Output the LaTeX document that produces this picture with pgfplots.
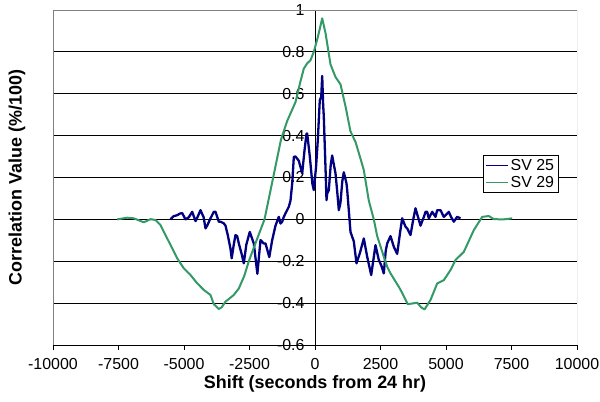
\documentclass[border=0pt]{standalone}
\usepackage{pgfplots}
\pgfplotsset{compat=1.18}
\usepackage{fontspec}
\setmainfont{Liberation Sans}

\definecolor{svblue}{RGB}{0,0,128}
\definecolor{svgreen}{RGB}{51,153,102}
\definecolor{frame}{RGB}{128,128,128}

\begin{document}
\begin{tikzpicture}
\path[use as bounding box] (-53bp,-57bp) rectangle (547bp,345bp);
\begin{axis}[
  at={(0,0)}, anchor=south west,
  scale only axis, width=524bp, height=335bp,
  xmin=-10000, xmax=10000, ymin=-0.6, ymax=1,
  axis x line=bottom, axis y line=center,
  x axis line style={-, black, line width=0.8bp},
  y axis line style={-, black, line width=0.8bp},
  hide obscured x ticks=false, hide obscured y ticks=false,
  scaled x ticks=false, scaled y ticks=false,
  xtick={-10000,-7500,-5000,-2500,0,2500,5000,7500,10000},
  xticklabels={-10000,-7500,-5000,-2500,0,2500,5000,7500,10000},
  ytick={-0.6,-0.4,-0.2,0,0.2,0.4,0.6,0.8,1},
  yticklabels={-0.6,-0.4,-0.2,0,0.2,0.4,0.6,0.8,1},
  minor tick num=0,
  tick align=outside, major tick length=5bp,
  tick style={black, line width=0.8bp},
  ymajorgrids, grid style={black, line width=0.8bp},
  tick label style={font=\fontsize{16}{19}\selectfont},
  xticklabel style={yshift=-6bp, inner sep=2bp},
  yticklabel style={xshift=-2bp},
  every axis x label/.style={at={(axis description cs:0.5,-0.1284)}, anchor=base,
    inner sep=0bp, font=\fontsize{18}{21}\selectfont\bfseries},
  every axis y label/.style={at={(axis description cs:-0.0687,0.5)}, anchor=center, rotate=90,
    font=\fontsize{18}{21}\selectfont\bfseries},
  xlabel={Shift (seconds from 24 hr)},
  ylabel={Correlation Value (\%/100)},
  legend cell align=left,
  legend image code/.code={\draw[#1, line width=1.3bp] (0bp,0bp) -- (22bp,0bp);},
  legend style={at={(rel axis cs:0.8206,0.567)}, anchor=north west,
    draw=black, line width=0.8bp, fill=white,
    font=\fontsize{16}{19}\selectfont,
    inner xsep=2bp, inner ysep=2bp, row sep=0bp},
]
% plot-area frame on the three sides without an axis line
\draw[frame, line width=0.8bp] (rel axis cs:0,0) -- (rel axis cs:0,1) -- (rel axis cs:1,1) -- (rel axis cs:1,0);

% SV 25
\addplot[svblue, line width=2.3bp, line join=round] coordinates {
(-5515,0) (-5400,0.015) (-5260,0.02) (-5150,0.028) (-5069,0.03) (-4943,0.0)
(-4817,0.01) (-4687,0.036) (-4561,-0.008) (-4523,0.0) (-4370,0.044) (-4250,0.01)
(-4179,-0.043) (-4115,-0.03) (-3989,0.005) (-3863,0.036) (-3798,0.036) (-3672,-0.011)
(-3607,-0.011) (-3481,-0.019) (-3416,-0.03) (-3329,-0.075) (-3226,-0.14) (-3180,-0.186)
(-3100,-0.12) (-3035,-0.075) (-2970,-0.08) (-2908,-0.115) (-2790,-0.17) (-2718,-0.21)
(-2620,-0.12) (-2490,-0.06) (-2336,-0.115) (-2200,-0.26) (-2080,-0.099) (-1954,-0.115)
(-1889,-0.115) (-1745,-0.18) (-1634,-0.099) (-1508,-0.03) (-1382,0.012) (-1317,-0.02)
(-1253,-0.011) (-1190,0.012) (-1126,0.029) (-1000,0.06) (-935,0.09) (-870,0.172)
(-808,0.299) (-744,0.30) (-680,0.29) (-618,0.28) (-489,0.22) (-400,0.33)
(-324,0.41) (-298,0.41) (-198,0.30) (-100,0.17) (-46,0.14) (40,0.25)
(107,0.379) (183,0.569) (237,0.585) (275,0.685) (310,0.55) (336,0.49)
(400,0.25) (439,0.092) (466,0.124) (527,0.14) (600,0.26) (655,0.305)
(782,0.22) (850,0.13) (909,0.044) (973,0.08) (1040,0.18) (1100,0.225)
(1202,0.172) (1229,0.14) (1355,-0.06) (1481,-0.105) (1584,-0.21) (1711,-0.162)
(1863,-0.091) (1991,-0.178) (2145,-0.266) (2244,-0.18) (2309,-0.123) (2435,-0.194)
(2530,-0.22) (2626,-0.258) (2700,-0.15) (2756,-0.115) (2882,-0.08) (3008,-0.131)
(3136,-0.165) (3250,-0.06) (3328,0.005) (3454,-0.035) (3519,-0.043) (3645,-0.075)
(3750,0.0) (3836,0.053) (4027,-0.03) (4150,0.01) (4218,0.036) (4282,0.036)
(4344,0.005) (4473,0.036) (4600,0.012) (4663,0.044) (4790,0.044) (4917,0.012)
(5107,0.036) (5200,0.01) (5298,-0.011) (5426,0.012) (5553,0.005)
};
\addlegendentry{SV 25}

% SV 29
\addplot[svgreen, line width=2bp, line join=round] coordinates {
(-7550,0) (-7170,0.008) (-6916,0.005) (-6534,-0.014) (-6279,0.001) (-6088,-0.003)
(-5897,-0.027) (-5706,-0.075) (-5451,-0.138) (-5260,-0.186) (-5008,-0.234) (-4752,-0.266)
(-4497,-0.305) (-4244,-0.337) (-3989,-0.361) (-3863,-0.405) (-3672,-0.428) (-3560,-0.42)
(-3416,-0.393) (-3099,-0.361) (-2908,-0.33) (-2700,-0.27) (-2527,-0.2) (-2200,-0.09)
(-1927,0) (-1596,0.2) (-1300,0.38) (-1062,0.47) (-744,0.56) (-553,0.66)
(-427,0.72) (-300,0.745) (-172,0.76) (-46,0.80) (107,0.87) (275,0.96)
(401,0.89) (592,0.74) (782,0.68) (973,0.645) (1164,0.54) (1355,0.42)
(1546,0.37) (1737,0.29) (1863,0.235) (2053,0.09) (2244,0.0) (2374,-0.08)
(2626,-0.178) (2756,-0.226) (2882,-0.258) (3199,-0.322) (3300,-0.345) (3542,-0.405)
(3700,-0.402) (3901,-0.398) (4050,-0.42) (4180,-0.43) (4409,-0.385) (4663,-0.306)
(4918,-0.29) (5172,-0.242) (5363,-0.194) (5681,-0.155) (6062,-0.051) (6382,0.012)
(6634,0.016) (6825,0.001) (7206,0) (7527,0.005)
};
\addlegendentry{SV 29}
\end{axis}
\end{tikzpicture}
\end{document}
